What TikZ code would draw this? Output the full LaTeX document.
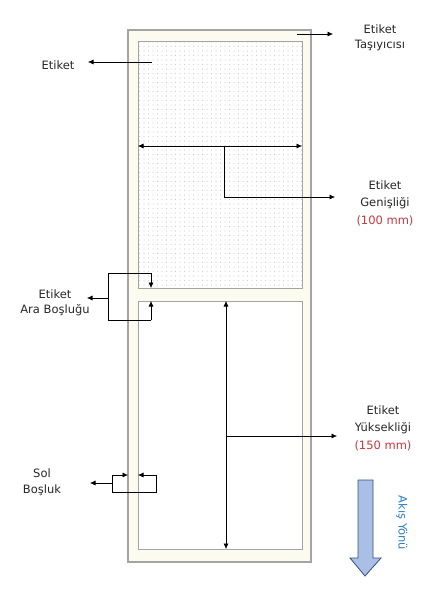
\documentclass[tikz,border=0pt]{standalone}
\usepackage{fontspec}
\setmainfont{DejaVu Sans}
\usetikzlibrary{arrows.meta,patterns.meta,positioning}
\definecolor{carrierfill}{HTML}{FCFBF0}
\definecolor{edgegray}{HTML}{A4A4A4}
\definecolor{flowfill}{HTML}{A9BFE6}
\definecolor{flowedge}{HTML}{34507F}
\definecolor{flowtext}{HTML}{2E7FC0}
\definecolor{mmred}{HTML}{C8373A}
\tikzdeclarepattern{
    name=etiketdots,
    type=uncolored,
    bottom left={(-0.5pt,-0.5pt)},
    top right={(4pt,4pt)},
    tile size={(4.5pt,4.5pt)},
    code={\pgfpathcircle{\pgfpointorigin}{0.55pt}\pgfusepath{fill}}
}
\tikzset{
    carrierbox/.style = {draw=edgegray, fill=carrierfill, line width=1.2pt,
                         inner sep=0pt, outer sep=0pt},
    etiketbox/.style  = {draw=edgegray, fill=white, line width=0.9pt,
                         inner sep=0pt, outer sep=0pt,
                         minimum width=164pt},
    txt/.style        = {font=\fontsize{11.5}{15.5}\selectfont, align=center,
                         text=black!85, inner sep=1pt},
    txtbig/.style     = {txt, font=\fontsize{11.5}{17.5}\selectfont},
    dimline/.style    = {line width=0.6pt, -{Latex[length=5.5pt,width=5pt]}},
    dimboth/.style    = {line width=0.6pt, {Latex[length=5.5pt,width=5pt]}-{Latex[length=5.5pt,width=5pt]}},
    plainline/.style  = {line width=0.6pt},
}
\newcommand*\mmtext[1]{\textcolor{mmred}{#1}}
\begin{document}
\begin{tikzpicture}[x=1pt,y=-1pt]
    \useasboundingbox (0,0) rectangle (424,600);

    % carrier and the two labels
    \node[carrierbox, minimum width=183pt, minimum height=532pt] (carrier) at (219.5,296) {};
    \node[etiketbox, minimum height=247pt, preaction={fill=white},
          pattern=etiketdots, pattern color=gray!40] (lab1) at (220,164.5) {};
    \node[etiketbox, minimum height=248pt] (lab2) at (220,425) {};

    % texts
    \node[txt] (tEtiket)  at (58,65)   {Etiket};
    \node[txt] (tCarrier) at (380,38)  {Etiket\\Taşıyıcısı};
    \node[txtbig] (tWidth)  at (385,203) {Etiket\\Genişliği\\\mmtext{(100 mm)}};
    \node[txt] (tGap)     at (55,303)  {Etiket\\Ara Boşluğu};
    \node[txtbig] (tHeight) at (383,428) {Etiket\\Yüksekliği\\\mmtext{(150 mm)}};
    \node[txt] (tSol)     at (42,482)  {Sol\\Boşluk};

    % label and carrier pointers
    \coordinate (etiketIn) at (152,62);
    \draw[dimline] (etiketIn) -- (88,62);
    \coordinate (carrierIn) at (297,34);
    \draw[dimline] (carrierIn) -- (333,34);

    % width
    \coordinate (wMid) at (224,146);
    \draw[dimboth] (lab1.west |- wMid) -- (lab1.east |- wMid);
    \draw[dimline] (wMid) -- (224,197) -- (335,197);

    % gap between labels
    \coordinate (gapTop) at (151,273);
    \coordinate (gapBot) at (151,320);
    \draw[plainline] (gapBot) -- (108,320) -- (108,273) -- (gapTop);
    \draw[dimline] (gapTop) -- (gapTop |- lab1.south);
    \draw[dimline] (gapBot) -- (gapBot |- lab2.north);
    \draw[dimline] (108,298) -- (87,298);

    % height
    \coordinate (hMid) at (226,436);
    \draw[dimboth] (lab2.north -| hMid) -- (lab2.south -| hMid);
    \draw[dimline] (hMid) -- (337,436);

    % left margin
    \coordinate (solL) at (112,475);
    \coordinate (solR) at (156,475);
    \draw[dimline] (solL) -- (solL -| carrier.west);
    \draw[dimline] (solR) -- (solR -| lab2.west);
    \draw[plainline] (solL) -- (112,492) -- (156,492) -- (solR);
    \draw[dimline] (112,483) -- (90,483);

    % flow direction
    \draw[fill=flowfill, draw=flowedge, line width=0.8pt, line join=miter]
        (358,480) -- (373,480) -- (373,558) -- (381,558) -- (365,576)
        -- (350,558) -- (358,558) -- cycle;
    \node[txt, text=flowtext, rotate=-90] (tFlow) at (402,523) {Akış Yönü};
\end{tikzpicture}
\end{document}
